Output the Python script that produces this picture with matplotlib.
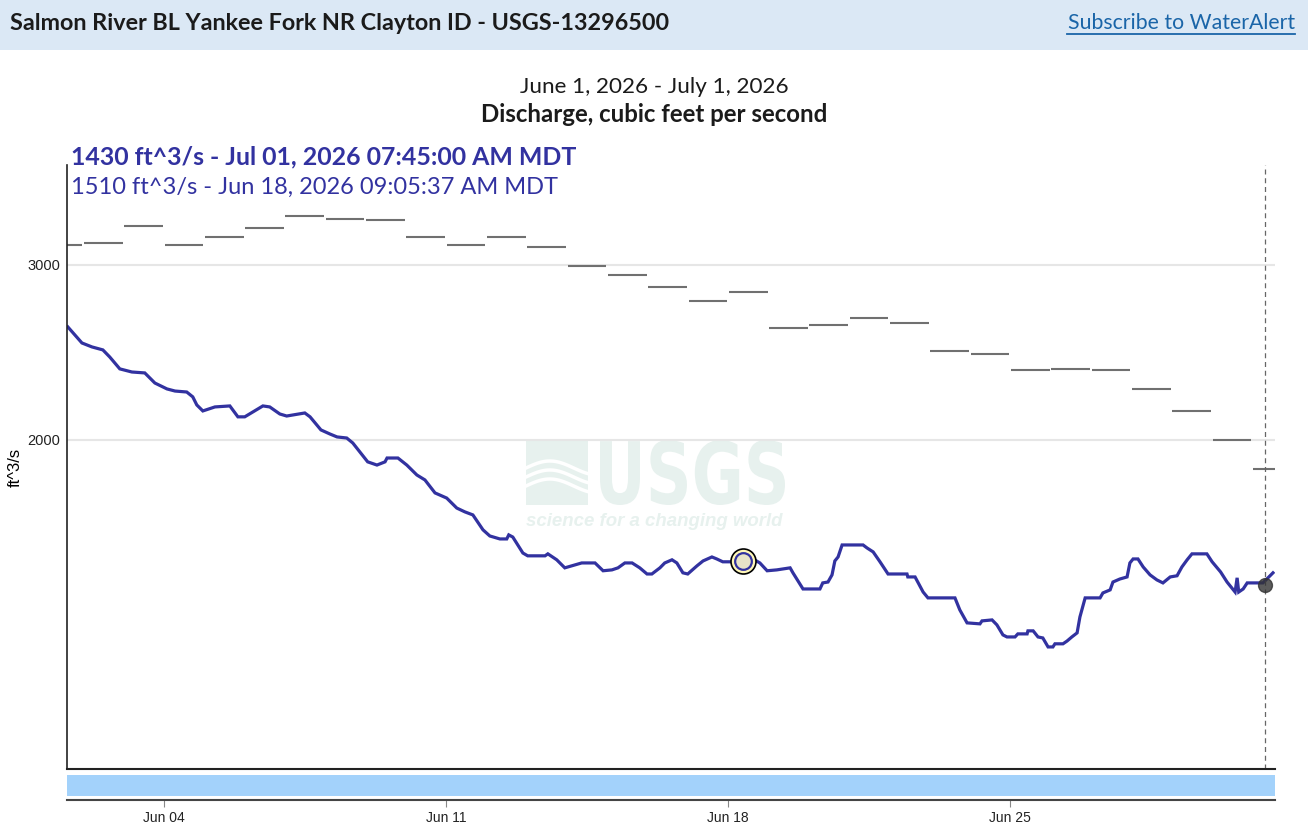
import matplotlib
matplotlib.use("Agg")
import matplotlib.pyplot as plt
import matplotlib.dates as mdates
from matplotlib.ticker import NullLocator, FixedLocator, FormatStrFormatter
from matplotlib.textpath import TextPath
from matplotlib.patches import PathPatch
from matplotlib.font_manager import FontProperties
from matplotlib.transforms import Affine2D
import numpy as np
import pandas as pd

# discharge, days after Jun 1 00:00 MDT and ft^3/s
flow_days = [0.62, 0.97, 1.22, 1.49, 1.66, 1.91, 2.21, 2.53, 2.78, 3.08, 3.28, 3.57, 3.72, 3.82, 3.97,
             4.27, 4.64, 4.84, 5.01, 5.46, 5.63, 5.88, 6.05, 6.50, 6.63, 6.90, 7.12, 7.30, 7.54, 7.69,
             8.06, 8.29, 8.49, 8.54, 8.81, 9.03, 9.28, 9.48, 9.73, 10.02, 10.27, 10.47, 10.67, 10.92, 11.09,
             11.34, 11.51, 11.56, 11.66, 11.91, 12.03, 12.46, 12.53, 12.75, 12.95, 13.37, 13.70, 13.90, 14.12,
             14.27, 14.44, 14.62, 14.81, 14.99, 15.11, 15.31, 15.43, 15.61, 15.73, 15.88, 16.00, 16.23, 16.38,
             16.60, 16.72, 16.87, 17.05, 17.38, 17.62, 17.79, 17.97, 18.21, 18.54, 18.61, 18.86, 19.28, 19.35,
             19.48, 19.58, 19.65, 19.73, 19.83, 20.35, 20.45, 20.60, 20.77, 20.97, 21.44, 21.46, 21.64, 21.84,
             21.96, 22.63, 22.75, 22.93, 23.25, 23.30, 23.55, 23.67, 23.82, 23.92, 24.12, 24.19, 24.42, 24.44,
             24.57, 24.69, 24.81, 24.94, 25.06, 25.11, 25.31, 25.41, 25.53, 25.66, 25.73, 25.86, 26.23, 26.30,
             26.48, 26.55, 26.72, 26.90, 26.97, 27.05, 27.17, 27.30, 27.47, 27.64, 27.79, 27.97, 28.14, 28.26,
             28.39, 28.51, 28.88, 29.01, 29.22, 29.38, 29.58, 29.63, 29.67, 29.78, 29.88, 30.27, 30.52]
flow_cfs = [2599, 2504, 2481, 2464, 2424, 2358, 2341, 2336, 2282, 2251, 2240, 2235, 2210, 2169, 2139,
            2159, 2164, 2110, 2110, 2164, 2159, 2124, 2114, 2129, 2110, 2047, 2028, 2014, 2009, 1986,
            1901, 1887, 1901, 1918, 1918, 1887, 1844, 1823, 1769, 1748, 1708, 1693, 1681, 1624, 1601,
            1590, 1590, 1605, 1597, 1539, 1529, 1529, 1536, 1515, 1487, 1504, 1504, 1477, 1480,
            1487, 1504, 1504, 1487, 1466, 1466, 1487, 1504, 1515, 1504, 1470, 1466, 1494, 1511,
            1525, 1518, 1508, 1508, 1510, 1518, 1504, 1477, 1480, 1487, 1470, 1416, 1416, 1436,
            1439, 1463, 1511, 1525, 1568, 1568, 1557, 1543, 1508, 1466, 1466, 1456, 1456, 1406,
            1387, 1387, 1349, 1309, 1306, 1315, 1318, 1303, 1273, 1267, 1267, 1276, 1276, 1285,
            1285, 1267, 1264, 1238, 1238, 1247, 1247, 1255, 1267, 1279, 1327, 1387, 1387, 1403,
            1413, 1439, 1449, 1456, 1504, 1518, 1518, 1490, 1463, 1446, 1436, 1456, 1460, 1490,
            1515, 1536, 1536, 1508, 1473, 1439, 1406, 1453, 1406, 1416, 1436, 1436, 1470]

# daily median statistics, one per day starting Jun 1
median_cfs = [3140, 3160, 3280, 3140, 3200, 3270, 3360, 3340, 3330, 3200, 3140, 3200, 3130, 2990, 2930,
              2850, 2760, 2820, 2590, 2610, 2650, 2620, 2460, 2440, 2350, 2360, 2350, 2250, 2140, 2000, 1870]

latest_day, latest_cfs = 30.32, 1430
hover_day, hover_cfs = 17.38, 1510

blue = "#3232a0"
wm = "#e7f1ee"
ui_font = ["Lato", "DejaVu Sans"]
ar_font = ["Liberation Sans", "DejaVu Sans"]

t0 = pd.Timestamp("2026-06-01")
def to_time(d):
    return t0 + pd.to_timedelta(np.asarray(d), unit="D")

flow_t = to_time(flow_days)
day_start = to_time(np.arange(len(median_cfs)) + 0.02)
day_end = to_time(np.arange(len(median_cfs)) + 0.98)
xmin, xmax = to_time(0.6), to_time(30.57)

fig = plt.figure(figsize=(13.08, 8.26), dpi=100)

# background layer in pixel coordinates: header band and watermark
bg = fig.add_axes([0, 0, 1, 1], zorder=0)
bg.set_xlim(0, 1308)
bg.set_ylim(826, 0)
bg.axis("off")
bg.add_patch(plt.Rectangle((0, 0), 1308, 50, color="#dbe8f5", lw=0))
bg.text(10, 24, "Salmon River BL Yankee Fork NR Clayton ID - USGS-13296500", fontsize=16.8,
        fontweight="bold", family=ui_font, color="#1b1b1b", va="center")
bg.text(1295, 23, "Subscribe to WaterAlert", fontsize=15.3, family=ui_font, color="#1a65a8",
        va="center", ha="right")
bg.plot([1067, 1295], [34, 34], color="#1a65a8", lw=1.3)
bg.text(654, 87, "June 1, 2026 - July 1, 2026", fontsize=16.2, family=ui_font, color="#1b1b1b",
        ha="center", va="center")
bg.text(654, 114, "Discharge, cubic feet per second", fontsize=17.3, family=ui_font,
        fontweight="bold", color="#1b1b1b", ha="center", va="center")
bg.text(71, 157, "1430 ft^3/s - Jul 01, 2026 07:45:00 AM MDT", fontsize=17.9, family=ui_font,
        fontweight="bold", color=blue, va="center")
bg.text(71, 187, "1510 ft^3/s - Jun 18, 2026 09:05:37 AM MDT", fontsize=17, family=ui_font,
        color=blue, va="center")

# USGS watermark
bg.add_patch(plt.Rectangle((526, 440), 62, 65, color=wm, lw=0))
wx = np.linspace(526, 588, 50)
for k in range(3):
    bg.plot(wx, 468 + 9 * k - 7 * np.sin((wx - 526) / 62 * np.pi * 1.3), color="white", lw=2.5)
tp = TextPath((0, 0), "USGS", size=1, prop=FontProperties(family="DejaVu Sans", weight="bold"))
ext = tp.get_extents()
tr = Affine2D().translate(-ext.x0, -ext.y0).scale(185 / ext.width, -65 / ext.height).translate(600, 505)
bg.add_patch(PathPatch(tr.transform_path(tp), color=wm, lw=0))
bg.text(526, 522, "science for a changing world", fontsize=13.4, fontweight="bold", style="italic",
        color=wm, va="center", family=ar_font)

ax = fig.add_axes([67 / 1308, 1 - 769 / 826, 1208 / 1308, 604 / 826], zorder=1)
ax.set_facecolor("none")
ax.set_yscale("log")
ax.set_ylim(933, 3782)
ax.set_xlim(xmin, xmax)

ax.hlines(median_cfs, day_start, day_end, color="#707070", lw=1.5)
ax.plot(flow_t, flow_cfs, color=blue, lw=2.3, solid_joinstyle="miter")
ax.axvline(to_time(latest_day), color="#666666", lw=0.9, dashes=(4, 3))
ax.plot([to_time(latest_day)], [latest_cfs], "o", ms=10, color="#333333", alpha=0.8)
ax.plot([to_time(hover_day)], [hover_cfs], "o", ms=18, mfc="#fff7b8", mec="black", mew=1.2)
ax.plot([to_time(hover_day)], [hover_cfs], "o", ms=12, mfc="#e8e4c8", mec=blue, mew=1.6)

ax.yaxis.set_major_locator(FixedLocator([2000, 3000]))
ax.yaxis.set_minor_locator(NullLocator())
ax.yaxis.set_major_formatter(FormatStrFormatter("%d"))
ax.tick_params(axis="y", length=0, pad=5, labelsize=10.5, labelcolor="#222222")
for lab in ax.get_yticklabels():
    lab.set_family(ar_font)
ax.grid(axis="y", color="#e6e6e6", lw=1.5)
ax.set_axisbelow(True)
ax.set_xticks([])
for s in ["top", "right"]:
    ax.spines[s].set_visible(False)
ax.spines["left"].set_color("#222222")
ax.spines["bottom"].set_color("#222222")
ax.spines["left"].set_linewidth(1.2)
ax.spines["bottom"].set_linewidth(1.5)
ax.set_ylabel("ft^3/s", fontsize=12, family=ar_font)
ax.yaxis.set_label_coords(-44 / 1208, 0.5)

# brush strip under the chart with the date axis
br = fig.add_axes([67 / 1308, 1 - 800 / 826, 1208 / 1308, 26 / 826], zorder=1)
br.set_xlim(xmin, xmax)
br.set_ylim(0, 26)
br.axhspan(4, 25, color="#a3d2fb", lw=0)
br.set_yticks([])
for s in ["top", "right", "left"]:
    br.spines[s].set_visible(False)
br.spines["bottom"].set_color("#444444")
br.spines["bottom"].set_linewidth(1.5)
br.xaxis.set_major_locator(mdates.DayLocator(bymonthday=[4, 11, 18, 25]))
br.xaxis.set_major_formatter(mdates.DateFormatter("%b %d"))
br.tick_params(axis="x", length=5, color="#888888", labelsize=10, labelcolor="#222222", pad=3)
for lab in br.get_xticklabels():
    lab.set_family(ar_font)

fig.savefig("out.png", dpi=100)
